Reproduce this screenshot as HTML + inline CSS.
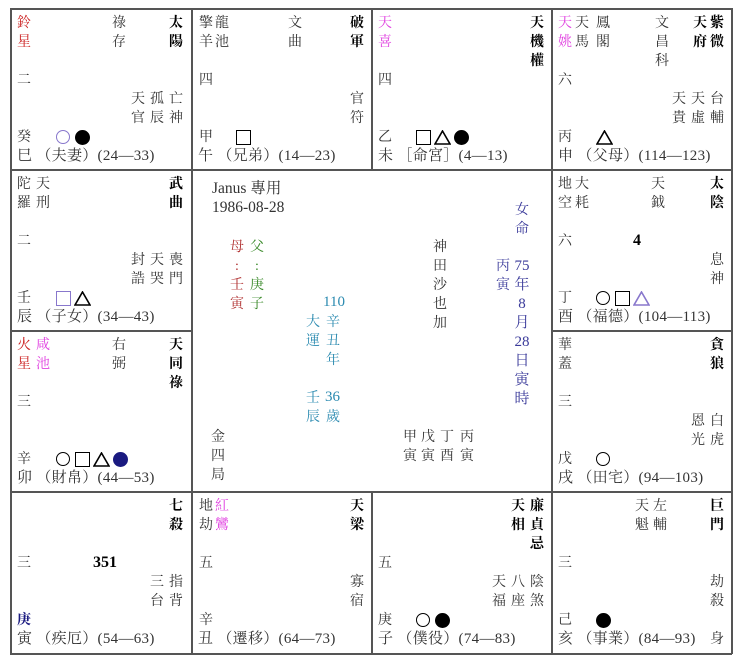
<!DOCTYPE html>
<html><head><meta charset="utf-8"><style>
body{margin:0;background:#fff;width:740px;height:662px;position:relative;overflow:hidden;font-family:"Liberation Serif","Noto Serif CJK SC",serif;color:#333}
.g{position:absolute;background:#555}
.c{position:absolute;width:16px;text-align:center;line-height:19px;font-size:14px}
.b{font-weight:bold;color:#000}
.t{position:absolute;font-size:14px;line-height:19px;white-space:pre}
.bt{font-size:15px;letter-spacing:0.3px}
.r{color:#cc2222}.m{color:#e040e0}
.ci{position:absolute;width:14px;height:14px;border:1.6px solid #000;border-radius:50%;box-sizing:border-box}
.sq{position:absolute;width:15px;height:15px;border:1.6px solid #000;box-sizing:border-box}
.fc{position:absolute;width:15px;height:15px;border-radius:50%;background:#000}
.tr{position:absolute;width:17px;height:15px}
</style></head><body>
<div class="g" style="left:10px;top:8px;width:722px;height:1.5px"></div>
<div class="g" style="left:10px;top:169px;width:722px;height:1.5px"></div>
<div class="g" style="left:10px;top:491px;width:722px;height:1.5px"></div>
<div class="g" style="left:10px;top:330px;width:181px;height:1.5px"></div>
<div class="g" style="left:551px;top:330px;width:181px;height:1.5px"></div>
<div class="g" style="left:10px;top:653px;width:722px;height:1.5px"></div>
<div class="g" style="left:10px;top:8px;width:1.5px;height:646px"></div>
<div class="g" style="left:731px;top:8px;width:1.5px;height:646px"></div>
<div class="g" style="left:191px;top:8px;width:1.5px;height:646px"></div>
<div class="g" style="left:551px;top:8px;width:1.5px;height:646px"></div>
<div class="g" style="left:371px;top:8px;width:1.5px;height:162px"></div>
<div class="g" style="left:371px;top:491px;width:1.5px;height:163px"></div>

<!-- 巳 -->
<div class="c r" style="left:16px;top:13.5px">鈴<br>星</div>
<div class="c" style="left:111px;top:13.5px">祿<br>存</div>
<div class="c b" style="left:168px;top:13.5px">太<br>陽</div>
<div class="c" style="left:16px;top:70.5px">二</div>
<div class="c" style="left:130px;top:89.5px">天<br>官</div>
<div class="c" style="left:149px;top:89.5px">孤<br>辰</div>
<div class="c" style="left:168px;top:89.5px">亡<br>神</div>
<div class="c" style="left:16px;top:127.5px">癸</div>
<div class="ci" style="left:56px;top:130px;border-color:#8877cc"></div>
<div class="fc" style="left:75px;top:129.5px"></div>
<div class="t bt" style="left:17px;top:146.5px">巳 （夫妻）(24—33)</div>

<!-- 午 -->
<div class="c" style="left:198px;top:13.5px">擎<br>羊</div>
<div class="c" style="left:214px;top:13.5px">龍<br>池</div>
<div class="c" style="left:287px;top:13.5px">文<br>曲</div>
<div class="c b" style="left:349px;top:13.5px">破<br>軍</div>
<div class="c" style="left:198px;top:70.5px">四</div>
<div class="c" style="left:349px;top:89.5px">官<br>符</div>
<div class="c" style="left:198px;top:127.5px">甲</div>
<div class="sq" style="left:236px;top:129.5px"></div>
<div class="t bt" style="left:198px;top:146.5px">午 （兄弟）(14—23)</div>

<!-- 未 -->
<div class="c m" style="left:377px;top:13.5px">天<br>喜</div>
<div class="c b" style="left:529px;top:13.5px">天<br>機<br>權</div>
<div class="c" style="left:377px;top:70.5px">四</div>
<div class="c" style="left:377px;top:127.5px">乙</div>
<div class="sq" style="left:416px;top:129.5px"></div>
<svg class="tr" style="left:434px;top:129.5px" viewBox="0 0 17 15"><polygon points="8.5,1 16,14 1,14" fill="none" stroke="#000" stroke-width="1.6"/></svg>
<div class="fc" style="left:454px;top:129.5px"></div>
<div class="t bt" style="left:378px;top:146.5px">未 ［命宮］(4—13)</div>

<!-- 申 -->
<div class="c m" style="left:557px;top:13.5px">天<br>姚</div>
<div class="c" style="left:574px;top:13.5px">天<br>馬</div>
<div class="c" style="left:595px;top:13.5px">鳳<br>閣</div>
<div class="c" style="left:654px;top:13.5px">文<br>昌<br>科</div>
<div class="c b" style="left:692px;top:13.5px">天<br>府</div>
<div class="c b" style="left:709px;top:13.5px">紫<br>微</div>
<div class="c" style="left:557px;top:70.5px">六</div>
<div class="c" style="left:671px;top:89.5px">天<br>貴</div>
<div class="c" style="left:690px;top:89.5px">天<br>虛</div>
<div class="c" style="left:709px;top:89.5px">台<br>輔</div>
<div class="c" style="left:557px;top:127.5px">丙</div>
<svg class="tr" style="left:596px;top:129.5px" viewBox="0 0 17 15"><polygon points="8.5,1 16,14 1,14" fill="none" stroke="#000" stroke-width="1.6"/></svg>
<div class="t bt" style="left:558px;top:146.5px">申 （父母）(114—123)</div>

<!-- 辰 -->
<div class="c" style="left:16px;top:174.5px">陀<br>羅</div>
<div class="c" style="left:35px;top:174.5px">天<br>刑</div>
<div class="c b" style="left:168px;top:174.5px">武<br>曲</div>
<div class="c" style="left:16px;top:231.5px">二</div>
<div class="c" style="left:130px;top:250.5px">封<br>誥</div>
<div class="c" style="left:149px;top:250.5px">天<br>哭</div>
<div class="c" style="left:168px;top:250.5px">喪<br>門</div>
<div class="c" style="left:16px;top:288.5px">壬</div>
<div class="sq" style="left:56px;top:290.5px;border-color:#8877cc"></div>
<svg class="tr" style="left:74px;top:290.5px" viewBox="0 0 17 15"><polygon points="8.5,1 16,14 1,14" fill="none" stroke="#000" stroke-width="1.6"/></svg>
<div class="t bt" style="left:17px;top:307.5px">辰 （子女）(34—43)</div>

<!-- 酉 -->
<div class="c" style="left:557px;top:174.5px">地<br>空</div>
<div class="c" style="left:574px;top:174.5px">大<br>耗</div>
<div class="c" style="left:650px;top:174.5px">天<br>鉞</div>
<div class="c b" style="left:709px;top:174.5px">太<br>陰</div>
<div class="c" style="left:557px;top:231.5px">六</div>
<div class="t b" style="left:633px;top:230.5px;font-size:16px">4</div>
<div class="c" style="left:709px;top:250.5px">息<br>神</div>
<div class="c" style="left:557px;top:288.5px">丁</div>
<div class="ci" style="left:596px;top:291px"></div>
<div class="sq" style="left:615px;top:290.5px"></div>
<svg class="tr" style="left:633px;top:290.5px" viewBox="0 0 17 15"><polygon points="8.5,1 16,14 1,14" fill="none" stroke="#8877cc" stroke-width="1.6"/></svg>
<div class="t bt" style="left:558px;top:307.5px">酉 （福德）(104—113)</div>

<!-- 卯 -->
<div class="c r" style="left:16px;top:335.5px">火<br>星</div>
<div class="c m" style="left:35px;top:335.5px">咸<br>池</div>
<div class="c" style="left:111px;top:335.5px">右<br>弼</div>
<div class="c b" style="left:168px;top:335.5px">天<br>同<br>祿</div>
<div class="c" style="left:16px;top:392.5px">三</div>
<div class="c" style="left:16px;top:449.5px">辛</div>
<div class="ci" style="left:56px;top:452px"></div>
<div class="sq" style="left:75px;top:451.5px"></div>
<svg class="tr" style="left:93px;top:451.5px" viewBox="0 0 17 15"><polygon points="8.5,1 16,14 1,14" fill="none" stroke="#000" stroke-width="1.6"/></svg>
<div class="fc" style="left:113px;top:451.5px;background:#1a1a80"></div>
<div class="t bt" style="left:17px;top:468.5px">卯 （財帛）(44—53)</div>

<!-- 戌 -->
<div class="c" style="left:557px;top:335.5px">華<br>蓋</div>
<div class="c b" style="left:709px;top:335.5px">貪<br>狼</div>
<div class="c" style="left:557px;top:392.5px">三</div>
<div class="c" style="left:690px;top:411.5px">恩<br>光</div>
<div class="c" style="left:709px;top:411.5px">白<br>虎</div>
<div class="c" style="left:557px;top:449.5px">戊</div>
<div class="ci" style="left:596px;top:452px"></div>
<div class="t bt" style="left:558px;top:468.5px">戌 （田宅）(94—103)</div>

<!-- 寅 -->
<div class="c b" style="left:168px;top:496.5px">七<br>殺</div>
<div class="c" style="left:16px;top:553.5px">三</div>
<div class="t b" style="left:93px;top:552.5px;font-size:16px">351</div>
<div class="c" style="left:149px;top:572.5px">三<br>台</div>
<div class="c" style="left:168px;top:572.5px">指<br>背</div>
<div class="c b" style="left:16px;top:610.5px;color:#1a1a80">庚</div>
<div class="t bt" style="left:17px;top:629.5px">寅 （疾厄）(54—63)</div>

<!-- 丑 -->
<div class="c" style="left:198px;top:496.5px">地<br>劫</div>
<div class="c m" style="left:214px;top:496.5px">紅<br>鸞</div>
<div class="c b" style="left:349px;top:496.5px">天<br>梁</div>
<div class="c" style="left:198px;top:553.5px">五</div>
<div class="c" style="left:349px;top:572.5px">寡<br>宿</div>
<div class="c" style="left:198px;top:610.5px">辛</div>
<div class="t bt" style="left:198px;top:629.5px">丑 （遷移）(64—73)</div>

<!-- 子 -->
<div class="c b" style="left:510px;top:496.5px">天<br>相</div>
<div class="c b" style="left:529px;top:496.5px">廉<br>貞<br>忌</div>
<div class="c" style="left:377px;top:553.5px">五</div>
<div class="c" style="left:491px;top:572.5px">天<br>福</div>
<div class="c" style="left:510px;top:572.5px">八<br>座</div>
<div class="c" style="left:529px;top:572.5px">陰<br>煞</div>
<div class="c" style="left:377px;top:610.5px">庚</div>
<div class="ci" style="left:416px;top:613px"></div>
<div class="fc" style="left:435px;top:612.5px"></div>
<div class="t bt" style="left:378px;top:629.5px">子 （僕役）(74—83)</div>

<!-- 亥 -->
<div class="c" style="left:634px;top:496.5px">天<br>魁</div>
<div class="c" style="left:652px;top:496.5px">左<br>輔</div>
<div class="c b" style="left:709px;top:496.5px">巨<br>門</div>
<div class="c" style="left:557px;top:553.5px">三</div>
<div class="c" style="left:709px;top:572.5px">劫<br>殺</div>
<div class="c" style="left:557px;top:610.5px">己</div>
<div class="fc" style="left:596px;top:612.5px"></div>
<div class="t bt" style="left:558px;top:629.5px">亥 （事業）(84—93)</div>
<div class="c" style="left:709px;top:629.5px">身</div>

<!-- center -->
<div class="t" style="left:212px;top:179px;font-size:15.5px">Janus 專用</div>
<div class="t" style="left:212px;top:198px;font-size:15.5px">1986-08-28</div>
<div class="c" style="left:229px;top:237.5px;color:#b03030">母<br>:<br>壬<br>寅</div>
<div class="c" style="left:249px;top:237.5px;color:#3a8a2a">父<br>:<br>庚<br>子</div>
<div class="t" style="left:323px;top:293px;color:#2a8ab0;font-size:15px">110</div>
<div class="c" style="left:305px;top:313px;color:#2a8ab0">大<br>運</div>
<div class="c" style="left:325px;top:313px;color:#2a8ab0">辛<br>丑<br>年</div>
<div class="c" style="left:305px;top:388.5px;color:#2a8ab0">壬<br>辰</div>
<div class="t" style="left:325px;top:388px;color:#2a8ab0;font-size:15px">36</div>
<div class="c" style="left:325px;top:407.5px;color:#2a8ab0">歲</div>
<div class="c" style="left:514px;top:200.5px;color:#3a3a9a">女<br>命</div>
<div class="c" style="left:432px;top:237.5px">神<br>田<br>沙<br>也<br>加</div>
<div class="c" style="left:495px;top:257px;color:#3a3a9a">丙<br>寅</div>
<div class="c" style="left:514px;top:257px;color:#3a3a9a;font-size:15px">75<br>年<br>8<br>月<br>28<br>日<br>寅<br>時</div>
<div class="c" style="left:210px;top:427.5px">金<br>四<br>局</div>
<div class="c" style="left:402px;top:427.5px">甲<br>寅</div>
<div class="c" style="left:420px;top:427.5px">戊<br>寅</div>
<div class="c" style="left:439px;top:427.5px">丁<br>酉</div>
<div class="c" style="left:459px;top:427.5px">丙<br>寅</div>
</body></html>
